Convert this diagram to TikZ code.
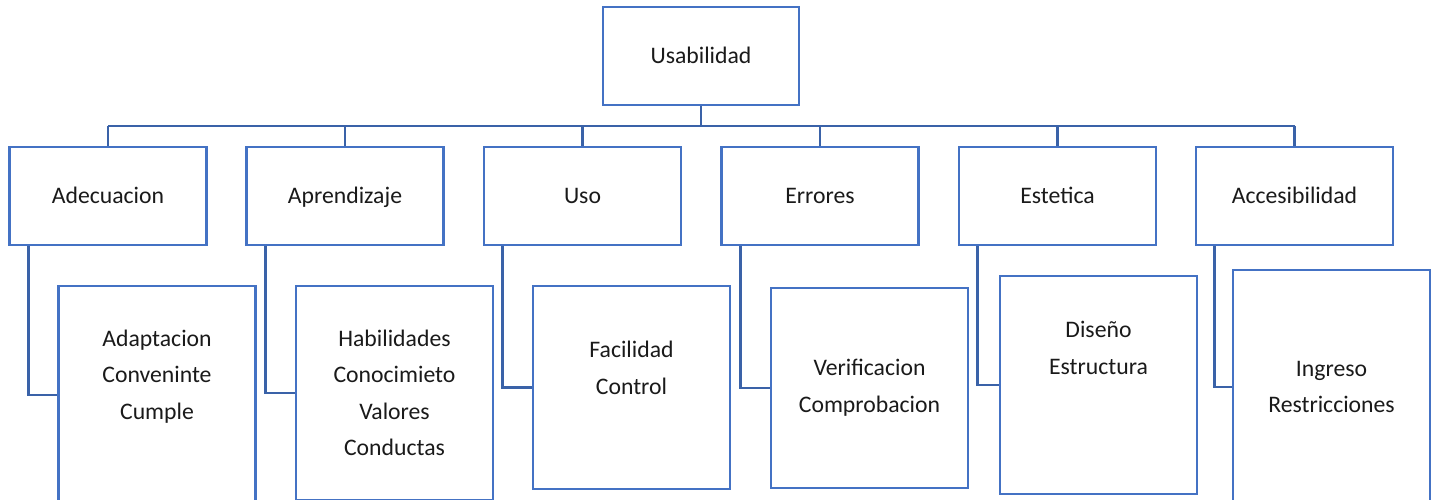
\documentclass[tikz,border=0pt]{standalone}
\usepackage{fontspec}
\setmainfont{Carlito}
\usepackage{xcolor}
\usepackage{tikz}
\usetikzlibrary{positioning,calc}
\definecolor{boxblue}{HTML}{4472C4}
\definecolor{linkblue}{HTML}{3A62A8}
\definecolor{ink}{HTML}{1A1A1A}
\tikzset{
    every picture/.style={line join=miter},
    topbox/.style={draw=boxblue,fill=white,line width=1.5pt,inner sep=0pt,
      minimum width=3.92cm,minimum height=1.96cm,text=ink,align=center,
      text height=1.1em,text depth=0.25em},
    subbox/.style={draw=boxblue,fill=white,line width=1.5pt,inner sep=0pt,
      minimum width=3.94cm,text=ink,align=center},
    itemtext/.style={text=ink,align=center,inner sep=0pt},
    link/.style={draw=linkblue,line width=1.5pt}
}

\begin{document}
\begin{tikzpicture}[x=0.02cm,y=-0.02cm,
    font=\fontsize{13.5}{20.8}\selectfont]
  \useasboundingbox (0,0) rectangle (1436,500);
  \clip (0,0) rectangle (1436,500);
  % root and first level
  \node[topbox] (usab) at (701,56) {Usabilidad};
  \node[topbox,minimum width=3.94cm] (adec) at (108,196) {Adecuacion};
  \node[topbox,minimum width=3.94cm] (apre) at (345,196) {Aprendizaje};
  \node[topbox,minimum width=3.94cm] (uso) at (582.5,196) {Uso};
  \node[topbox,minimum width=3.94cm] (erro) at (820,196) {Errores};
  \node[topbox,minimum width=3.94cm] (este) at (1057.5,196) {Estetica};
  \node[topbox,minimum width=3.94cm] (acce) at (1294.5,196) {Accesibilidad};
  \coordinate (bar) at (0,126);
  \draw[link] (usab.south) -- (usab.south |- bar);
  \draw[link] (adec.north |- bar) -- (acce.north |- bar);
  \foreach \n in {adec,apre,uso,erro,este,acce}
    \draw[link] (\n.north |- bar) -- (\n.north);
  % second level
  \node[subbox,minimum height=4.36cm] (adecsub) at (157,395) {};
  \node[subbox,minimum height=4.28cm] (apresub) at (394.5,393) {};
  \node[subbox,minimum height=4.06cm] (usosub) at (631.5,387.5) {};
  \node[subbox,minimum height=4.00cm] (errosub) at (869.5,388) {};
  \node[subbox,minimum height=4.36cm] (estesub) at (1098.5,385) {};
  \node[subbox,minimum height=4.68cm] (accesub) at (1331.5,387) {};
  \foreach \n in {adec,apre,uso,erro,este,acce}
    \draw[link] ([xshift=0.4cm]\n.south west) |- (\n sub.west);
  \node[itemtext] (adectxt) at (157,376.5) {Adaptacion\\Conveninte\\Cumple};
  \node[itemtext] (apretxt) at (394.5,393) {Habilidades\\Conocimieto\\Valores\\Conductas};
  \node[itemtext] (usotxt) at (631.5,368) {Facilidad\\Control};
  \node[itemtext] (errotxt) at (869.5,387.5) {Verificacion\\Comprobacion};
  \node[itemtext] (estetxt) at (1098.5,348) {Diseño\\Estructura};
  \node[itemtext] (accetxt) at (1331.5,387) {Ingreso\\Restricciones};
\end{tikzpicture}
\end{document}
